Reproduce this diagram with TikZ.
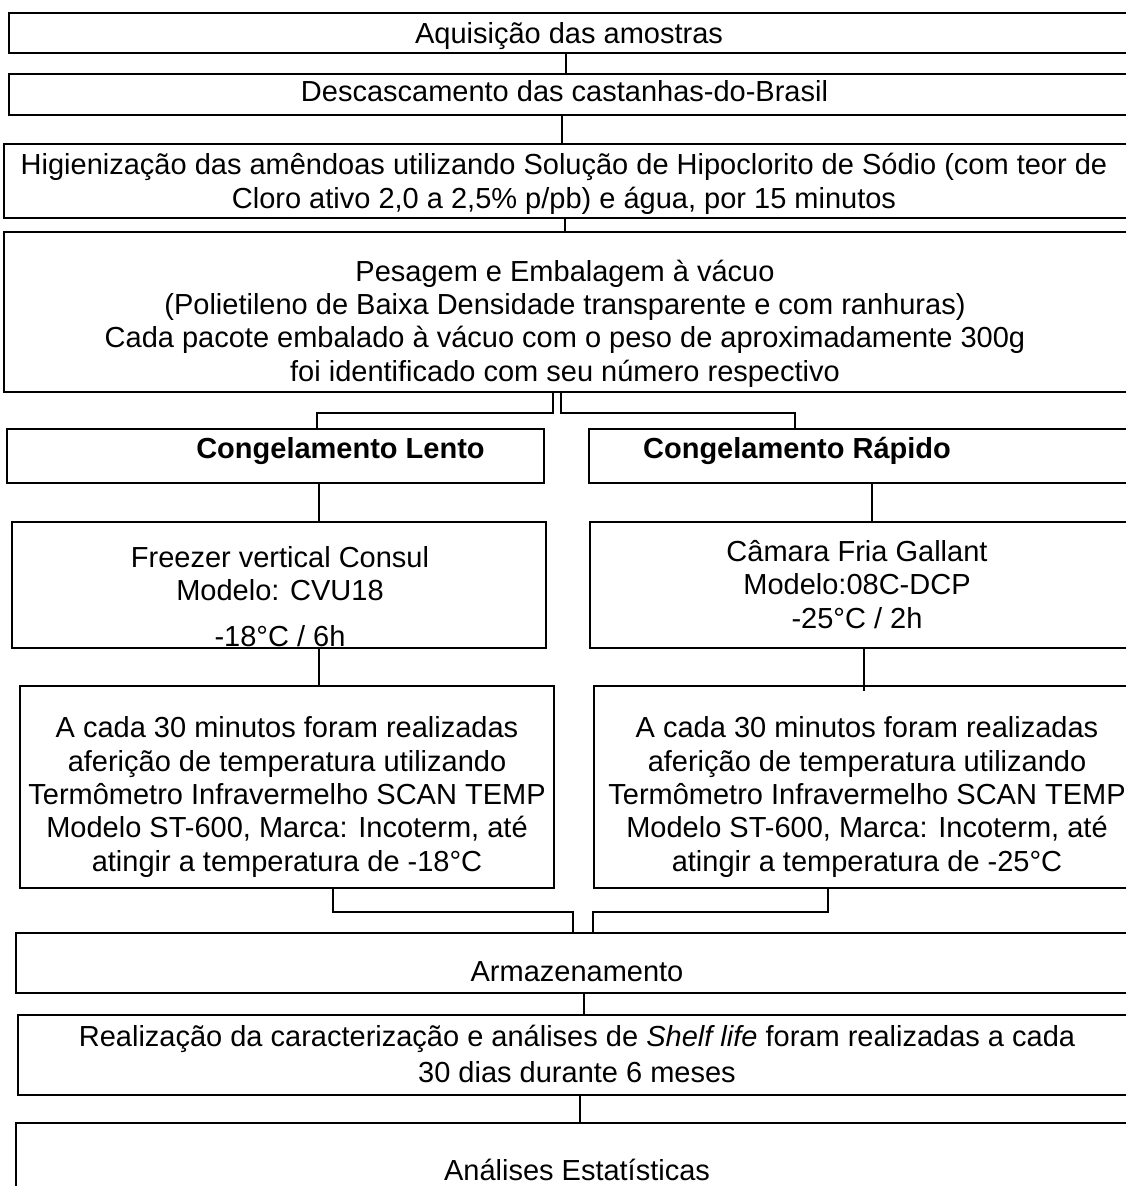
\documentclass[tikz,border=0pt]{standalone}
\usepackage{fontspec}
\setmainfont{Liberation Sans}
\begin{document}
\begin{tikzpicture}[x=1pt,y=-1pt,
  box/.style={draw, line width=2.2pt, inner sep=0pt, outer sep=0pt, anchor=north west},
  conn/.style={line width=1.6pt},
  txt/.style={align=center, inner sep=0pt, anchor=base, font=\fontsize{29}{33.3}\selectfont}]
\useasboundingbox (0,0) rectangle (1126,1186);
% boxes
\node[box, minimum width=1121pt, minimum height=40pt]  (nA) at (9,13) {};
\node[box, minimum width=1121pt, minimum height=41pt]  (nB) at (9,74) {};
\node[box, minimum width=1126pt, minimum height=74pt]  (nC) at (4,144) {};
\node[box, minimum width=1126pt, minimum height=160pt] (nD) at (4,232) {};
\node[box, minimum width=537pt,  minimum height=54pt]  (nE) at (7,429) {};
\node[box, minimum width=541pt,  minimum height=54pt]  (nF) at (589,429) {};
\node[box, minimum width=534pt,  minimum height=126pt] (nG) at (12,522) {};
\node[box, minimum width=540pt,  minimum height=126pt] (nH) at (590,522) {};
\node[box, minimum width=534pt,  minimum height=202pt] (nI) at (20,686) {};
\node[box, minimum width=536pt,  minimum height=202pt] (nJ) at (594,686) {};
\node[box, minimum width=1114pt, minimum height=60pt]  (nK) at (16,933) {};
\node[box, minimum width=1112pt, minimum height=80pt]  (nL) at (18,1015) {};
\node[box, minimum width=1114pt, minimum height=77pt]  (nM) at (16,1123) {};
% texts (anchor base = baseline of the last line)
\node[txt] (tA) at (569,43) {Aquisição das amostras};
\node[txt] (tB) at (564.5,101) {Descascamento das castanhas-do-Brasil};
\node[txt] (tC) at (564,208) {Higienização das amêndoas utilizando Solução de Hipoclorito de Sódio (com teor de\\Cloro ativo 2,0 a 2,5\% p/pb) e água, por 15 minutos};
\node[txt] (tD) at (565,381) {Pesagem e Embalagem à vácuo\\(Polietileno de Baixa Densidade transparente e com ranhuras)\\Cada pacote embalado à vácuo com o peso de aproximadamente 300g\\foi identificado com seu número respectivo};
\node[txt, font=\fontsize{29}{33.3}\selectfont\bfseries] (tE) at (340.5,458) {Congelamento Lento};
\node[txt, font=\fontsize{29}{33.3}\selectfont\bfseries] (tF) at (797,458) {Congelamento Rápido};
\node[txt] (tG) at (280,646) {Freezer vertical Consul\\Modelo: CVU18\\[12.4pt]-18°C / 6h};
\node[txt] (tH) at (857,628) {Câmara Fria Gallant\\Modelo:08C-DCP\\-25°C / 2h};
\node[txt] (tI) at (287,871) {A cada 30 minutos foram realizadas\\aferição de temperatura utilizando\\Termômetro Infravermelho SCAN TEMP\\Modelo ST-600, Marca: Incoterm, até\\atingir a temperatura de -18°C};
\node[txt] (tJ) at (867,871) {A cada 30 minutos foram realizadas\\aferição de temperatura utilizando\\Termômetro Infravermelho SCAN TEMP\\Modelo ST-600, Marca: Incoterm, até\\atingir a temperatura de -25°C};
\node[txt] (tK) at (577,981) {Armazenamento};
\node[txt, font=\fontsize{29}{36}\selectfont] (tL) at (577,1082) {Realização da caracterização e análises de \textit{Shelf life} foram realizadas a cada\\30 dias durante 6 meses};
\node[txt] (tM) at (577,1180) {Análises Estatísticas};
% connector x positions
\coordinate (xAB) at (566,0);
\coordinate (xBC) at (562,0);
\coordinate (xCD) at (565,0);
\coordinate (xDl) at (553,0);
\coordinate (xDr) at (561,0);
\coordinate (xE) at (317,0);
\coordinate (xF) at (795,0);
\coordinate (xEG) at (319,0);
\coordinate (xFH) at (872,0);
\coordinate (xGI) at (319,0);
\coordinate (xHJ) at (864,0);
\coordinate (xIo) at (333,0);
\coordinate (xIi) at (573,0);
\coordinate (xJo) at (828,0);
\coordinate (xJi) at (593,0);
\coordinate (xKL) at (584,0);
\coordinate (xLM) at (580,0);
\coordinate (yD) at (0,413);
\coordinate (yIJ) at (0,912);
% connectors
\draw[conn] (nA.south -| xAB) -- (nB.north -| xAB);
\draw[conn] (nB.south -| xBC) -- (nC.north -| xBC);
\draw[conn] (nC.south -| xCD) -- (nD.north -| xCD);
\draw[conn] (nD.south -| xDl) -- (xDl |- yD) -- (xE |- yD) -- (nE.north -| xE);
\draw[conn] (nD.south -| xDr) -- (xDr |- yD) -- (xF |- yD) -- (nF.north -| xF);
\draw[conn] (nE.south -| xEG) -- (nG.north -| xEG);
\draw[conn] (nF.south -| xFH) -- (nH.north -| xFH);
\draw[conn] (nG.south -| xGI) -- (nI.north -| xGI);
\draw[conn] (nH.south -| xHJ) -- ([yshift=-5pt]nJ.north -| xHJ);
\draw[conn] (nI.south -| xIo) -- (xIo |- yIJ) -- (xIi |- yIJ) -- (nK.north -| xIi);
\draw[conn] (nJ.south -| xJo) -- (xJo |- yIJ) -- (xJi |- yIJ) -- (nK.north -| xJi);
\draw[conn] (nK.south -| xKL) -- (nL.north -| xKL);
\draw[conn] (nL.south -| xLM) -- (nM.north -| xLM);
\end{tikzpicture}
\end{document}
